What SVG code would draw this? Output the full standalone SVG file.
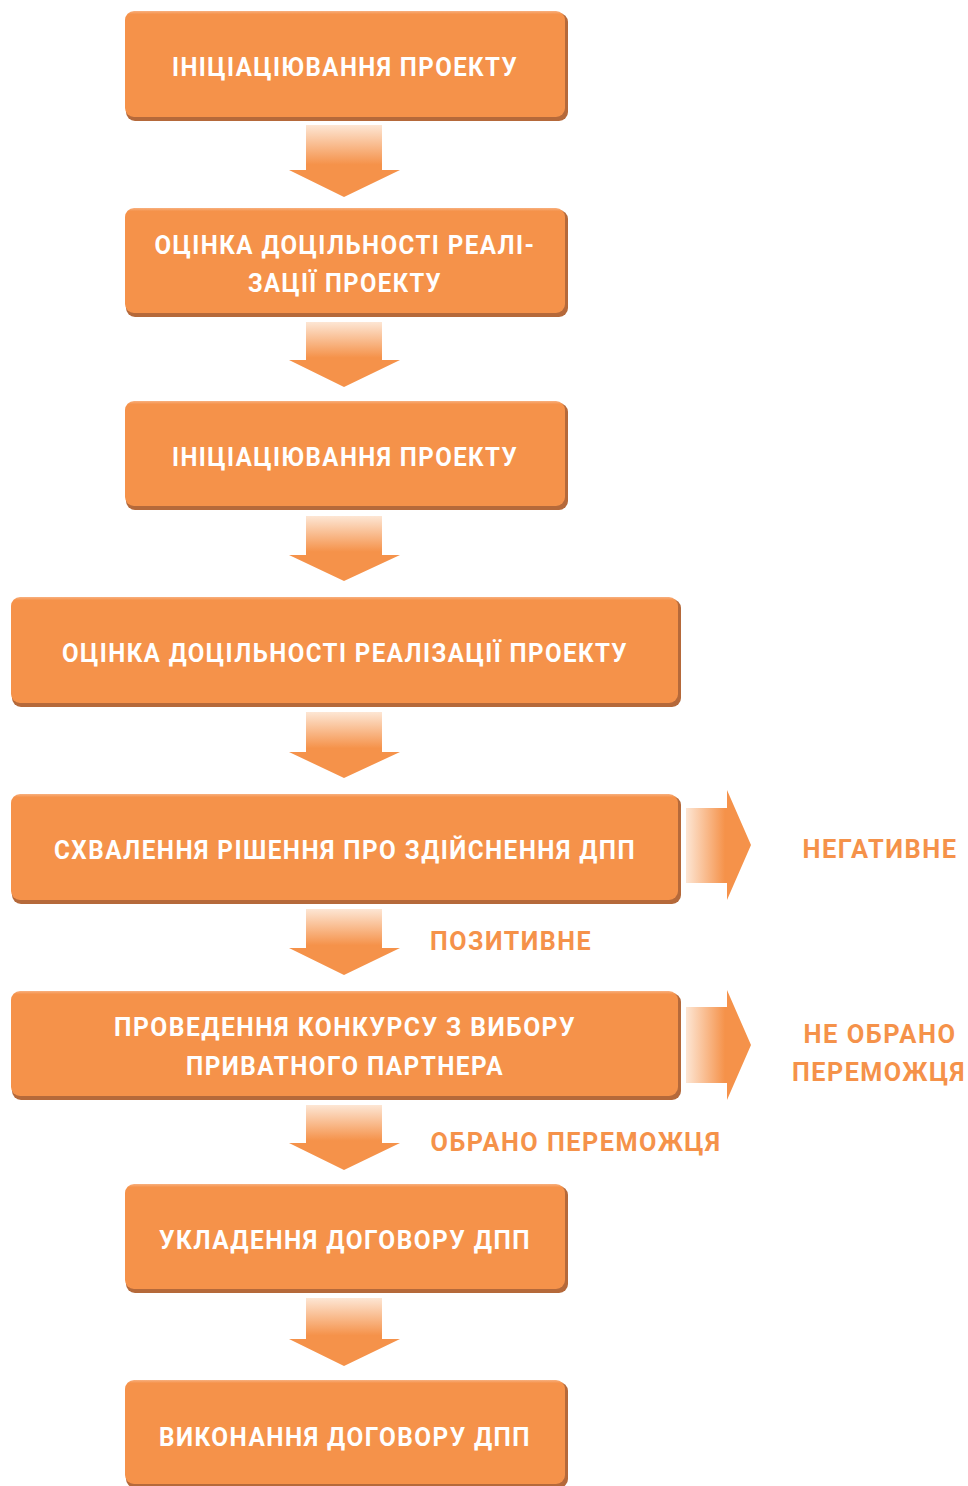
<svg xmlns="http://www.w3.org/2000/svg" width="968" height="1486" viewBox="0 0 968 1486">
<defs>
<linearGradient id="gDown" x1="0" y1="0" x2="0" y2="1">
<stop offset="0" stop-color="#fde6d4"/>
<stop offset="0.55" stop-color="#f5924a"/>
<stop offset="1" stop-color="#f5924a"/>
</linearGradient>
<linearGradient id="gRight" x1="0" y1="0" x2="1" y2="0">
<stop offset="0" stop-color="#fde6d4"/>
<stop offset="0.6" stop-color="#f5924a"/>
<stop offset="1" stop-color="#f5924a"/>
</linearGradient>
<linearGradient id="gBox" x1="0" y1="0" x2="0" y2="1">
<stop offset="0" stop-color="#f8b07f"/>
<stop offset="0.03" stop-color="#f5924a"/>
<stop offset="1" stop-color="#f5924a"/>
</linearGradient>
</defs>
<style>
.sh{fill:#b5693a}
.bx{fill:url(#gBox)}
.t{font-family:Roboto,"DejaVu Sans",sans-serif;font-weight:bold;font-size:25px;letter-spacing:1.5px;fill:#ffffff;text-anchor:middle}
.l{font-family:Roboto,"DejaVu Sans",sans-serif;font-weight:bold;font-size:25px;letter-spacing:1.5px;fill:#f5924a;text-anchor:middle}
.ad{fill:url(#gDown)}
.ar{fill:url(#gRight)}
</style>

<g id="connectors">
<path class="ad" d="M306,125 H382 V170 H400 L344,197 L289,170 H306 Z"/>
<path class="ad" d="M306,322 H382 V360 H400 L344,387 L289,360 H306 Z"/>
<path class="ad" d="M306,516 H382 V555 H400 L344,581 L289,555 H306 Z"/>
<path class="ad" d="M306,712 H382 V752 H400 L344,778 L289,752 H306 Z"/>
<path class="ad" d="M306,909 H382 V948 H400 L344,975 L289,948 H306 Z"/>
<path class="ad" d="M306,1105 H382 V1143 H400 L344,1170 L289,1143 H306 Z"/>
<path class="ad" d="M306,1298 H382 V1339 H400 L344,1366 L289,1339 H306 Z"/>
<path class="ar" d="M686,808 H727 V790 L751,845 L727,900 V883 H686 Z"/>
<path class="ar" d="M686,1007 H727 V990 L751,1045 L727,1100 V1083 H686 Z"/>
<text class="l" x="880" y="858" textLength="155" lengthAdjust="spacingAndGlyphs">НЕГАТИВНЕ</text>
<text class="l" x="511" y="950" textLength="162" lengthAdjust="spacingAndGlyphs">ПОЗИТИВНЕ</text>
<text class="l" x="880" y="1043" textLength="153" lengthAdjust="spacingAndGlyphs">НЕ ОБРАНО</text>
<text class="l" x="879" y="1081" textLength="174" lengthAdjust="spacingAndGlyphs">ПЕРЕМОЖЦЯ</text>
<text class="l" x="576" y="1151" textLength="291" lengthAdjust="spacingAndGlyphs">ОБРАНО ПЕРЕМОЖЦЯ</text>
</g>

<g id="n1">
<rect class="sh" x="126" y="13" width="442" height="108" rx="9"/>
<rect class="bx" x="125" y="11" width="440" height="106" rx="9"/>
<text class="t" x="345" y="76" textLength="346" lengthAdjust="spacingAndGlyphs">ІНІЦІАЦІЮВАННЯ ПРОЕКТУ</text>
</g>
<g id="n2">
<rect class="sh" x="126" y="210" width="442" height="107" rx="9"/>
<rect class="bx" x="125" y="208" width="440" height="105" rx="9"/>
<text class="t" x="345" y="254" textLength="381" lengthAdjust="spacingAndGlyphs">ОЦІНКА ДОЦІЛЬНОСТІ РЕАЛІ-</text>
<text class="t" x="345" y="292" textLength="194" lengthAdjust="spacingAndGlyphs">ЗАЦІЇ ПРОЕКТУ</text>
</g>
<g id="n3">
<rect class="sh" x="126" y="403" width="442" height="107" rx="9"/>
<rect class="bx" x="125" y="401" width="440" height="105" rx="9"/>
<text class="t" x="345" y="466" textLength="346" lengthAdjust="spacingAndGlyphs">ІНІЦІАЦІЮВАННЯ ПРОЕКТУ</text>
</g>
<g id="n4">
<rect class="sh" x="12" y="599" width="669" height="108" rx="9"/>
<rect class="bx" x="11" y="597" width="667" height="106" rx="9"/>
<text class="t" x="345" y="662" textLength="566" lengthAdjust="spacingAndGlyphs">ОЦІНКА ДОЦІЛЬНОСТІ РЕАЛІЗАЦІЇ ПРОЕКТУ</text>
</g>
<g id="n5">
<rect class="sh" x="12" y="796" width="669" height="108" rx="9"/>
<rect class="bx" x="11" y="794" width="667" height="106" rx="9"/>
<text class="t" x="345" y="859" textLength="582" lengthAdjust="spacingAndGlyphs">СХВАЛЕННЯ РІШЕННЯ ПРО ЗДІЙСНЕННЯ ДПП</text>
</g>
<g id="n6">
<rect class="sh" x="12" y="993" width="669" height="107" rx="9"/>
<rect class="bx" x="11" y="991" width="667" height="105" rx="9"/>
<text class="t" x="345" y="1036" textLength="462" lengthAdjust="spacingAndGlyphs">ПРОВЕДЕННЯ КОНКУРСУ З ВИБОРУ</text>
<text class="t" x="345" y="1075" textLength="318" lengthAdjust="spacingAndGlyphs">ПРИВАТНОГО ПАРТНЕРА</text>
</g>
<g id="n7">
<rect class="sh" x="126" y="1186" width="442" height="107" rx="9"/>
<rect class="bx" x="125" y="1184" width="440" height="105" rx="9"/>
<text class="t" x="345" y="1249" textLength="372" lengthAdjust="spacingAndGlyphs">УКЛАДЕННЯ ДОГОВОРУ ДПП</text>
</g>
<g id="n8">
<rect class="sh" x="126" y="1382" width="442" height="106" rx="9"/>
<rect class="bx" x="125" y="1380" width="440" height="104" rx="9"/>
<text class="t" x="345" y="1446" textLength="372" lengthAdjust="spacingAndGlyphs">ВИКОНАННЯ ДОГОВОРУ ДПП</text>
</g>
</svg>
